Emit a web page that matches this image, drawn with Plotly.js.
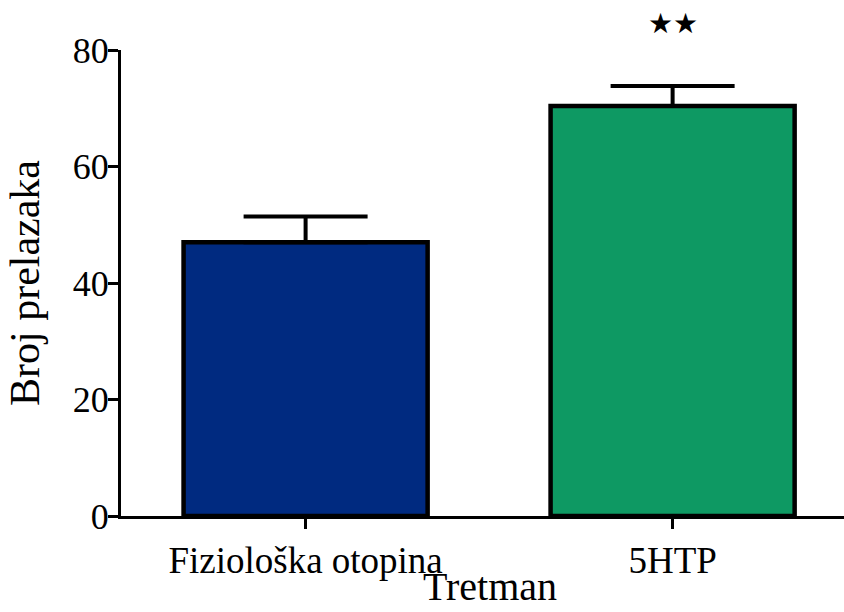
<!DOCTYPE html>
<html>
<head>
<meta charset="utf-8">
<script src="https://cdn.plot.ly/plotly-3.0.1.min.js"></script>
<style>html,body{margin:0;padding:0;background:#fff;}#chart{width:844px;height:612px;}</style>
</head>
<body>
<div id="chart"></div>
<script>
var categories = ['Fiziološka otopina', '5HTP'];
var meanValues = [47.0, 70.4];
var errorValues = [4.4, 3.4];
var barColors = ['#002a80', '#0e9963'];
var significance = ['', '★★'];
var yTickValues = [0, 20, 40, 60, 80];
var xTitle = 'Tretman';
var yTitle = 'Broj prelazaka';

var serif = 'Liberation Serif, Times New Roman, serif';

var trace = {
  type: 'bar',
  x: categories,
  y: meanValues,
  width: 0.665,
  marker: {color: barColors, line: {color: '#000', width: 4.5}},
  error_y: {type: 'data', array: errorValues, symmetric: false, arrayminus: [0, 0],
            color: '#000', thickness: 4, width: 62},
  hoverinfo: 'skip'
};

var annotations = [];
categories.forEach(function (c, i) {
  if (significance[i]) {
    annotations.push({x: c, y: meanValues[i] + errorValues[i], xref: 'x', yref: 'y',
      yshift: 63, text: significance[i], showarrow: false,
      font: {family: 'DejaVu Sans', size: 28, color: '#000'}});
  }
});
annotations.push({x: (490 - 121) / 723, xref: 'paper', y: 0, yref: 'paper', text: xTitle, showarrow: false,
  xanchor: 'center', yanchor: 'bottom', yshift: -95,
  font: {family: serif, size: 40, color: '#000'}});

var layout = {
  width: 844, height: 612,
  margin: {l: 121, r: 0, t: 50, b: 96, pad: 0},
  paper_bgcolor: '#fff', plot_bgcolor: '#fff',
  showlegend: false,
  xaxis: {
    type: 'category', range: [-0.503, 1.467],
    showline: true, linecolor: '#000', linewidth: 3,
    ticks: 'outside', ticklen: 10, tickwidth: 3, tickcolor: '#000',
    showgrid: false, zeroline: false,
    tickfont: {family: serif, size: 37, color: '#000'}
  },
  yaxis: {
    range: [0, 80], tickvals: yTickValues, ticktext: yTickValues.map(String),
    showline: true, linecolor: '#000', linewidth: 3,
    ticks: 'outside', ticklen: 10, tickwidth: 3, tickcolor: '#000',
    ticklabelstandoff: -8,
    showgrid: false, zeroline: false,
    tickfont: {family: serif, size: 36, color: '#000'},
    title: {text: yTitle, font: {family: serif, size: 42, color: '#000'}, standoff: 21}
  },
  annotations: annotations
};

Plotly.newPlot('chart', [trace], layout, {staticPlot: true, displayModeBar: false});
</script>
</body>
</html>
